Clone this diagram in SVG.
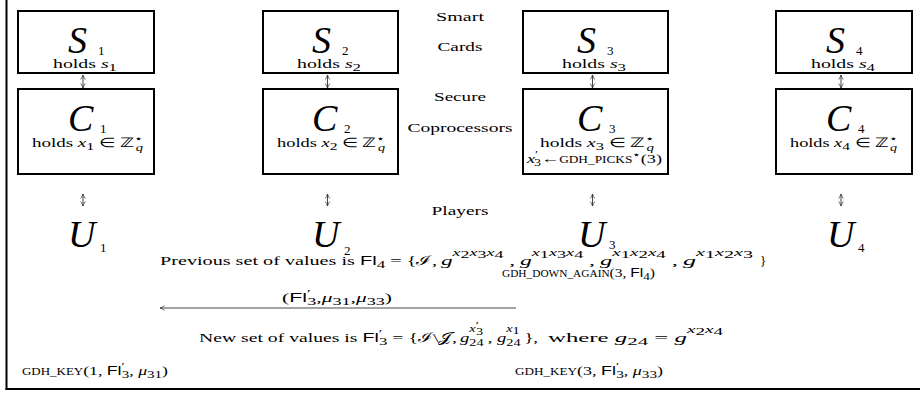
<svg xmlns="http://www.w3.org/2000/svg" width="920" height="394" viewBox="0 0 920 394">
<style>
.box{fill:none;stroke:#000;stroke-width:2}
.frame{fill:none;stroke:#000;stroke-width:2}
text{font-family:'Liberation Serif',serif;font-size:13px;fill:#000}
.big{font-style:italic;font-size:38px}
.bs{font-size:13px}
.i{font-style:italic}
.s{font-size:10px}
.sf{font-family:'Liberation Sans',sans-serif}
.sc{font-size:9.5px}
.mid{text-anchor:middle}
.con{fill:none;stroke:#333;stroke-width:0.9}
</style>
<defs>
<marker id="ah" viewBox="0 0 8 8" refX="7" refY="4" markerWidth="6" markerHeight="6" orient="auto-start-reverse" markerUnits="userSpaceOnUse">
<path d="M1,1 Q4,3 7,4 Q4,5 1,7" fill="none" stroke="#333" stroke-width="1"/>
</marker>
</defs>
<g id="frame">
<line class="frame" x1="6.5" y1="0" x2="6.5" y2="390"/>
<line class="frame" x1="5.5" y1="389" x2="920" y2="389"/>
</g>
<g id="labels">
<text class="mid" x="460" y="21" textLength="48" lengthAdjust="spacingAndGlyphs">Smart</text>
<text class="mid" x="460" y="51" textLength="45" lengthAdjust="spacingAndGlyphs">Cards</text>
<text class="mid" x="460" y="101" textLength="52" lengthAdjust="spacingAndGlyphs">Secure</text>
<text class="mid" x="460" y="132" textLength="105" lengthAdjust="spacingAndGlyphs">Coprocessors</text>
<text class="mid" x="460" y="215" textLength="57" lengthAdjust="spacingAndGlyphs">Players</text>
</g>
<g id="S1">
<rect class="box" x="18" y="11" width="136" height="62"/>
<text class="big" x="68" y="53">S</text>
<text class="bs" x="98" y="55">1</text>
<text x="53" y="68" textLength="64" lengthAdjust="spacingAndGlyphs">holds <tspan class="i">s</tspan><tspan dy="3" font-size="11">1</tspan></text>
</g>
<g id="S2">
<rect class="box" x="263" y="11" width="135" height="62"/>
<text class="big" x="312" y="53">S</text>
<text class="bs" x="342" y="55">2</text>
<text x="297" y="68" textLength="64" lengthAdjust="spacingAndGlyphs">holds <tspan class="i">s</tspan><tspan dy="3" font-size="11">2</tspan></text>
</g>
<g id="S3">
<rect class="box" x="523" y="11" width="145" height="62"/>
<text class="big" x="577" y="53">S</text>
<text class="bs" x="607" y="55">3</text>
<text x="562" y="68" textLength="64" lengthAdjust="spacingAndGlyphs">holds <tspan class="i">s</tspan><tspan dy="3" font-size="11">3</tspan></text>
</g>
<g id="S4">
<rect class="box" x="776" y="11" width="136" height="62"/>
<text class="big" x="826" y="53">S</text>
<text class="bs" x="856" y="55">4</text>
<text x="811" y="68" textLength="64" lengthAdjust="spacingAndGlyphs">holds <tspan class="i">s</tspan><tspan dy="3" font-size="11">4</tspan></text>
</g>
<g id="C1">
<rect class="box" x="18" y="89" width="136" height="85"/>
<text class="big" x="68" y="131">C</text>
<text class="bs" x="100" y="133">1</text>
<text x="32" y="147" textLength="111" lengthAdjust="spacingAndGlyphs">holds <tspan class="i">x</tspan><tspan dy="3" font-size="11">1</tspan><tspan dy="-3"> ∈ ℤ</tspan><tspan dy="-5" class="s">⋆</tspan><tspan dx="-5" dy="9" class="s i">q</tspan></text>
</g>
<g id="C2">
<rect class="box" x="263" y="89" width="135" height="85"/>
<text class="big" x="312" y="131">C</text>
<text class="bs" x="344" y="133">2</text>
<text x="277" y="147" textLength="108" lengthAdjust="spacingAndGlyphs">holds <tspan class="i">x</tspan><tspan dy="3" font-size="11">2</tspan><tspan dy="-3"> ∈ ℤ</tspan><tspan dy="-5" class="s">⋆</tspan><tspan dx="-5" dy="9" class="s i">q</tspan></text>
</g>
<g id="C3">
<rect class="box" x="523" y="89" width="145" height="85"/>
<text class="big" x="577" y="131">C</text>
<text class="bs" x="609" y="133">3</text>
<text x="540" y="147" textLength="114" lengthAdjust="spacingAndGlyphs">holds <tspan class="i">x</tspan><tspan dy="3" font-size="11">3</tspan><tspan dy="-3"> ∈ ℤ</tspan><tspan dy="-5" class="s">⋆</tspan><tspan dx="-5" dy="9" class="s i">q</tspan></text>
<text x="527" y="163" textLength="135" lengthAdjust="spacingAndGlyphs"><tspan class="i">x</tspan><tspan dy="-5" class="s">′</tspan><tspan dx="-3" dy="8" class="s">3</tspan><tspan dy="-3">←</tspan><tspan class="sc">GDH_PICKS</tspan><tspan dy="-5" class="s">⋆</tspan><tspan dy="5">(3)</tspan></text>
</g>
<g id="C4">
<rect class="box" x="776" y="89" width="136" height="85"/>
<text class="big" x="826" y="131">C</text>
<text class="bs" x="858" y="133">4</text>
<text x="790" y="147" textLength="107" lengthAdjust="spacingAndGlyphs">holds <tspan class="i">x</tspan><tspan dy="3" font-size="11">4</tspan><tspan dy="-3"> ∈ ℤ</tspan><tspan dy="-5" class="s">⋆</tspan><tspan dx="-5" dy="9" class="s i">q</tspan></text>
</g>
<g id="U1">
<text class="big" x="68" y="247">U</text>
<text class="bs" x="100" y="252">1</text>
</g>
<g id="U2">
<text class="big" x="312" y="247">U</text>
<text class="bs" x="344" y="255">2</text>
</g>
<g id="U3">
<text class="big" x="578" y="247">U</text>
<text class="bs" x="609" y="249">3</text>
</g>
<g id="U4">
<text class="big" x="827" y="247">U</text>
<text class="bs" x="858" y="252">4</text>
</g>
<g id="connectors">
<line class="con" x1="83" y1="75" x2="83" y2="88" marker-start="url(#ah)" marker-end="url(#ah)"/>
<line class="con" x1="327.5" y1="75" x2="327.5" y2="88" marker-start="url(#ah)" marker-end="url(#ah)"/>
<line class="con" x1="592.5" y1="75" x2="592.5" y2="88" marker-start="url(#ah)" marker-end="url(#ah)"/>
<line class="con" x1="841" y1="75" x2="841" y2="88" marker-start="url(#ah)" marker-end="url(#ah)"/>
<line class="con" x1="83" y1="194" x2="83" y2="206" marker-start="url(#ah)" marker-end="url(#ah)"/>
<line class="con" x1="327.5" y1="194" x2="327.5" y2="206" marker-start="url(#ah)" marker-end="url(#ah)"/>
<line class="con" x1="592.5" y1="194" x2="592.5" y2="206" marker-start="url(#ah)" marker-end="url(#ah)"/>
<line class="con" x1="841" y1="194" x2="841" y2="206" marker-start="url(#ah)" marker-end="url(#ah)"/>
<line class="con" x1="516" y1="308" x2="160" y2="308" marker-end="url(#ah)"/>
</g>
<g id="previous">
<text x="160" y="265" textLength="277" lengthAdjust="spacingAndGlyphs">Previous set of values is <tspan class="sf">Fl</tspan><tspan dy="3" font-size="11">4</tspan><tspan dy="-3"> = {ℐ,</tspan></text>
<text x="441" y="265" textLength="74" lengthAdjust="spacingAndGlyphs"><tspan class="i">g</tspan><tspan dy="-9" class="s i">x</tspan><tspan dy="2" class="s">2</tspan><tspan dy="-2" class="s i">x</tspan><tspan dy="2" class="s">3</tspan><tspan dy="-2" class="s i">x</tspan><tspan dy="2" class="s">4</tspan><tspan dy="7"> ,</tspan></text>
<text x="520" y="265" textLength="75" lengthAdjust="spacingAndGlyphs"><tspan class="i">g</tspan><tspan dy="-9" class="s i">x</tspan><tspan dy="2" class="s">1</tspan><tspan dy="-2" class="s i">x</tspan><tspan dy="2" class="s">3</tspan><tspan dy="-2" class="s i">x</tspan><tspan dy="2" class="s">4</tspan><tspan dy="7"> ,</tspan></text>
<text x="600" y="265" textLength="78" lengthAdjust="spacingAndGlyphs"><tspan class="i">g</tspan><tspan dy="-9" class="s i">x</tspan><tspan dy="2" class="s">1</tspan><tspan dy="-2" class="s i">x</tspan><tspan dy="2" class="s">2</tspan><tspan dy="-2" class="s i">x</tspan><tspan dy="2" class="s">4</tspan><tspan dy="7"> ,</tspan></text>
<text x="683" y="265" textLength="70" lengthAdjust="spacingAndGlyphs"><tspan class="i">g</tspan><tspan dy="-9" class="s i">x</tspan><tspan dy="2" class="s">1</tspan><tspan dy="-2" class="s i">x</tspan><tspan dy="2" class="s">2</tspan><tspan dy="-2" class="s i">x</tspan><tspan dy="2" class="s">3</tspan></text>
<text x="760" y="265">}</text>
<text x="502" y="277" textLength="153" lengthAdjust="spacingAndGlyphs"><tspan class="sc">GDH_DOWN_AGAIN</tspan>(3, <tspan class="sf">Fl</tspan><tspan dy="3" font-size="11">4</tspan><tspan dy="-3">)</tspan></text>
</g>
<g id="message">
<text x="282" y="302" textLength="110" lengthAdjust="spacingAndGlyphs">(<tspan class="sf">Fl</tspan><tspan dy="-5" class="s">′</tspan><tspan dx="-2" dy="8" font-size="11">3</tspan><tspan dy="-3">,</tspan><tspan class="i">μ</tspan><tspan dy="3" font-size="11">31</tspan><tspan dy="-3">,</tspan><tspan class="i">μ</tspan><tspan dy="3" font-size="11">33</tspan><tspan dy="-3">)</tspan></text>
</g>
<g id="newset">
<text x="199" y="342" textLength="258" lengthAdjust="spacingAndGlyphs">New set of values is <tspan class="sf">Fl</tspan><tspan dy="-5" class="s">′</tspan><tspan dx="-2" dy="8" font-size="11">3</tspan><tspan dy="-3"> = {ℐ\𝒥,</tspan></text>
<text x="460" y="342" textLength="78" lengthAdjust="spacingAndGlyphs"><tspan class="i">g</tspan><tspan dy="4" class="s">24</tspan><tspan dx="-10" dy="-14" class="s i">x</tspan><tspan dy="-3" class="s">′</tspan><tspan dx="-2" dy="6" class="s">3</tspan><tspan dy="7"> , </tspan><tspan class="i">g</tspan><tspan dy="4" class="s">24</tspan><tspan dx="-10" dy="-14" class="s i">x</tspan><tspan dy="2" class="s">1</tspan><tspan dy="8"> },</tspan></text>
<text x="548" y="342" textLength="175" lengthAdjust="spacingAndGlyphs">where <tspan class="i">g</tspan><tspan dy="3" font-size="11">24</tspan><tspan dy="-3"> = </tspan><tspan class="i">g</tspan><tspan dy="-9" class="s i">x</tspan><tspan dy="2" class="s">2</tspan><tspan dy="-2" class="s i">x</tspan><tspan dy="2" class="s">4</tspan></text>
</g>
<g id="keys">
<text x="22" y="375" textLength="146" lengthAdjust="spacingAndGlyphs"><tspan class="sc">GDH_KEY</tspan>(1, <tspan class="sf">Fl</tspan><tspan dy="-5" class="s">′</tspan><tspan dx="-2" dy="8" font-size="11">3</tspan><tspan dy="-3">, </tspan><tspan class="i">μ</tspan><tspan dy="3" font-size="11">31</tspan><tspan dy="-3">)</tspan></text>
<text x="515" y="375" textLength="148" lengthAdjust="spacingAndGlyphs"><tspan class="sc">GDH_KEY</tspan>(3, <tspan class="sf">Fl</tspan><tspan dy="-5" class="s">′</tspan><tspan dx="-2" dy="8" font-size="11">3</tspan><tspan dy="-3">, </tspan><tspan class="i">μ</tspan><tspan dy="3" font-size="11">33</tspan><tspan dy="-3">)</tspan></text>
</g>
</svg>
